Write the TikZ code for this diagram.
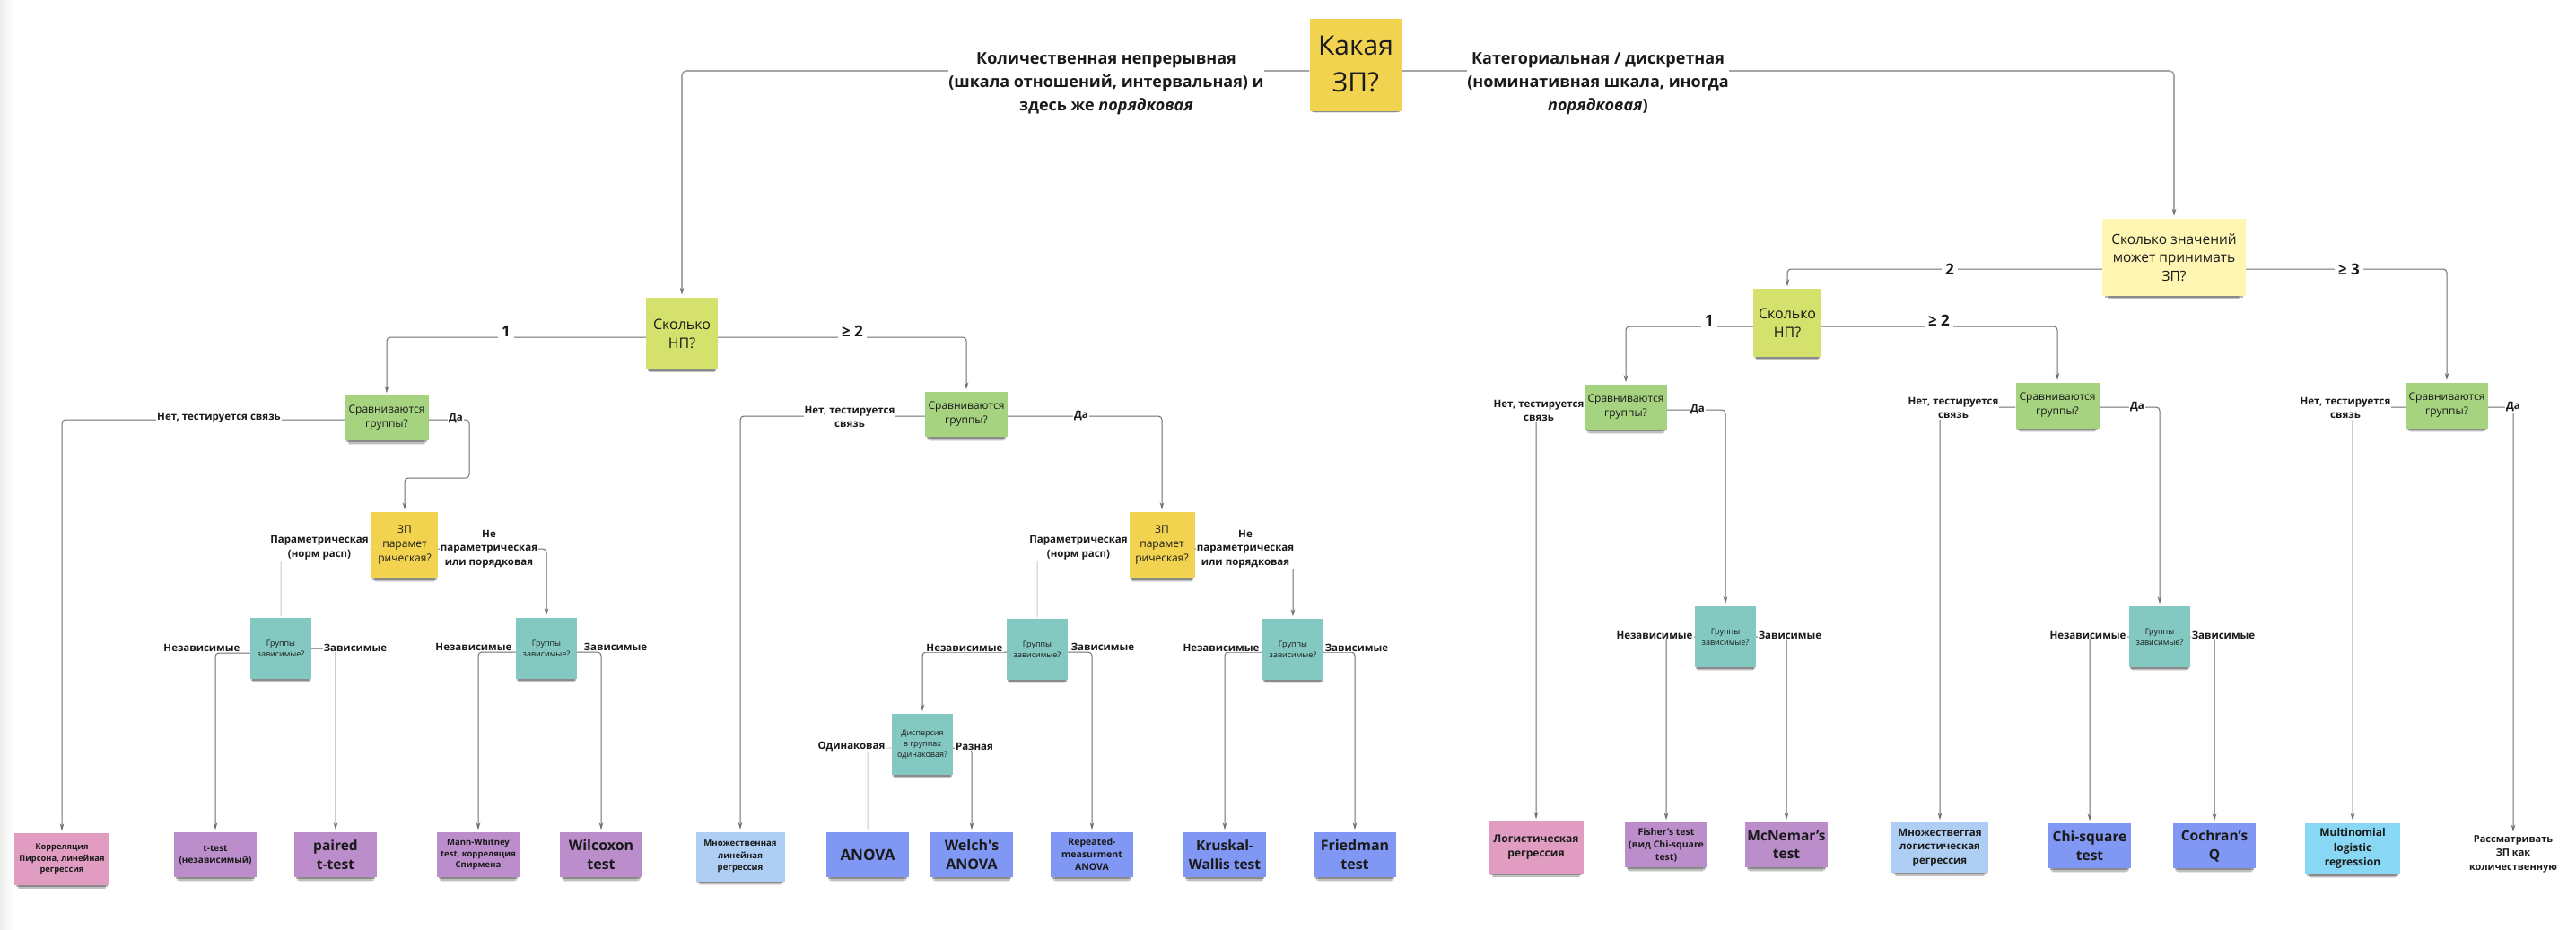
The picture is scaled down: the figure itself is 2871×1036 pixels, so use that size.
\documentclass[tikz,border=0pt]{standalone}
\usepackage{fontspec}
\setmainfont{Open Sans}
\usetikzlibrary{arrows.meta,shadows}

\definecolor{ink}{HTML}{1A1A1A}
\definecolor{wire}{HTML}{6E6E6E}
\definecolor{wirelight}{HTML}{CACACA}
\definecolor{wiretop}{HTML}{A6A6A6}
\definecolor{cYellow}{HTML}{F2D350}
\definecolor{cPale}{HTML}{FFF6B3}
\definecolor{cLime}{HTML}{D4E16C}
\definecolor{cGreen}{HTML}{A6D380}
\definecolor{cTeal}{HTML}{84C9C1}
\definecolor{cPink}{HTML}{E09DC1}
\definecolor{cViolet}{HTML}{BB8ECB}
\definecolor{cSky}{HTML}{AECEF3}
\definecolor{cBlue}{HTML}{8098F3}
\definecolor{cCyan}{HTML}{88D8F5}

\newcommand\fsz[2]{\fontsize{#1}{#2}\selectfont}

\tikzset{
  sticky/.style={rectangle, inner sep=1pt, align=center, text=ink,
    drop shadow={shadow xshift=0pt, shadow yshift=-8pt, shadow scale=0.90, opacity=0.10, fill=black},
    drop shadow={shadow xshift=0pt, shadow yshift=-6pt, shadow scale=0.93, opacity=0.16, fill=black},
    drop shadow={shadow xshift=0pt, shadow yshift=-3.5pt, shadow scale=0.96, opacity=0.28, fill=black}},
  ask/.style={sticky, font=\fsz{12}{16}},
  small/.style={sticky, fill=cTeal, minimum width=68pt, minimum height=68pt, font=\fsz{9}{12}},
  result/.style={sticky, minimum width=92pt, minimum height=50pt},
  lbl/.style={fill=white, inner sep=1pt, align=center, text=ink, font=\bfseries\fsz{11.5}{15.5}},
  numlbl/.style={fill=white, inner sep=4pt, text=ink, font=\bfseries\fsz{17}{20}},
  toplbl/.style={fill=white, inner sep=0pt, align=center, text=ink, font=\bfseries\fsz{18}{26}},
  conn/.style={draw=wire, line width=1pt, rounded corners=4pt},
  arr/.style={conn, -{Stealth[length=8pt,width=4.5pt]}, shorten >=2.5pt},
  topconn/.style={draw=wiretop, line width=1.6pt, rounded corners=5pt,
    -{Stealth[length=8pt,width=4.5pt,color=wire]}, shorten >=3pt},
  faint/.style={draw=wirelight, line width=1pt, rounded corners=4pt, shorten >=2pt},
}

\begin{document}
\begin{tikzpicture}[x=1pt,y=-1pt]
\useasboundingbox (0,0) rectangle (2871,1036);
\fill[white] (0,0) rectangle (2871,1036);
\shade[left color=black!7, right color=white] (0,0) rectangle (14,1036);

% ---- question stickies ----
\node[sticky, fill=cYellow, minimum width=103pt, minimum height=103pt, font=\fsz{30}{41}] (Q0) at (1511,72) {Какая\\ЗП?};
\node[sticky, fill=cPale, minimum width=160pt, minimum height=86pt, font=\fsz{15.5}{20.5}] (Q1) at (2423,287) {Сколько значений\\может принимать\\ЗП?};
\node[sticky, fill=cLime, minimum width=80pt, minimum height=80pt, font=\fsz{16}{21}] (NPA) at (760,372) {Сколько\\НП?};
\node[sticky, fill=cLime, minimum width=76pt, minimum height=76pt, font=\fsz{16}{21}] (NPC) at (1992,360) {Сколько\\НП?};

\node[ask, fill=cGreen, minimum width=93pt, minimum height=50pt] (SA) at (431,466) {Сравниваются\\группы?};
\node[ask, fill=cGreen, minimum width=92pt, minimum height=50pt] (SB) at (1077,462) {Сравниваются\\группы?};
\node[ask, fill=cGreen, minimum width=92pt, minimum height=50pt] (SC) at (1812,454) {Сравниваются\\группы?};
\node[ask, fill=cGreen, minimum width=93pt, minimum height=51pt] (SD) at (2293,452) {Сравниваются\\группы?};
\node[ask, fill=cGreen, minimum width=92pt, minimum height=51pt] (SE) at (2727,452) {Сравниваются\\группы?};

\node[ask, fill=cYellow, minimum width=74pt, minimum height=74pt] (ZA) at (451,608) {ЗП\\парамет\\рическая?};
\node[ask, fill=cYellow, minimum width=73pt, minimum height=74pt] (ZB) at (1295,608) {ЗП\\парамет\\рическая?};

\node[small] (GA1) at (313,723) {Группы\\зависимые?};
\node[small] (GA2) at (609,723) {Группы\\зависимые?};
\node[small] (GB1) at (1156,724) {Группы\\зависимые?};
\node[small] (GB2) at (1441,724) {Группы\\зависимые?};
\node[small] (GC) at (1923,710) {Группы\\зависимые?};
\node[small] (GD) at (2407,710) {Группы\\зависимые?};
\node[small] (DISP) at (1028,830) {Дисперсия\\в группах\\одинаковая?};

% ---- result stickies ----
\node[result, fill=cPink, minimum width=106pt, minimum height=58pt, font=\bfseries\fsz{9.3}{12.5}] (KOR) at (69,958) {Корреляция\\Пирсона, линейная\\регрессия};
\node[result, fill=cViolet, font=\bfseries\fsz{10}{13}] (TT) at (240,953) {t-test\\(независимый)};
\node[result, fill=cViolet, font=\bfseries\fsz{15.5}{21}] (PT) at (374,953) {paired\\t-test};
\node[result, fill=cViolet, font=\bfseries\fsz{9.5}{12.5}] (MW) at (533,953) {Mann-Whitney\\test, корреляция\\Спирмена};
\node[result, fill=cViolet, font=\bfseries\fsz{16}{21}] (WX) at (670,953) {Wilcoxon\\test};
\node[result, fill=cSky, minimum width=99pt, minimum height=55pt, font=\bfseries\fsz{9.6}{13.5}] (MLR) at (825,955) {Множественная\\линейная\\регрессия};
\node[result, fill=cBlue, font=\bfseries\fsz{17}{21}] (AN) at (967,953) {ANOVA};
\node[result, fill=cBlue, font=\bfseries\fsz{16}{21}] (WA) at (1083,953) {Welch\textquotesingle s\\ANOVA};
\node[result, fill=cBlue, font=\bfseries\fsz{10.5}{14}] (RM) at (1217,953) {Repeated-\\measurment\\ANOVA};
\node[result, fill=cBlue, font=\bfseries\fsz{15.5}{21}] (KW) at (1365,953) {Kruskal-\\Wallis test};
\node[result, fill=cBlue, font=\bfseries\fsz{16}{21}] (FR) at (1510,953) {Friedman\\test};

\node[result, fill=cPink, minimum width=106pt, minimum height=58pt, font=\bfseries\fsz{12}{16}] (LOG) at (1712,945) {Логистическая\\регрессия};
\node[result, fill=cViolet, font=\bfseries\fsz{10.5}{14}] (FI) at (1857,942) {Fisher’s test\\(вид Chi-square\\test)};
\node[result, fill=cViolet, font=\bfseries\fsz{15.5}{20}] (MN) at (1991,942) {McNemar’s\\test};
\node[result, fill=cSky, minimum width=108pt, minimum height=56pt, font=\bfseries\fsz{11.5}{15.5}] (MLOG) at (2162,945) {Множествеггая\\логистическая\\регрессия};
\node[result, fill=cBlue, font=\bfseries\fsz{15.5}{21}] (CHI) at (2329,943) {Chi-square\\test};
\node[result, fill=cBlue, font=\bfseries\fsz{15.5}{21}] (CO) at (2468,943) {Cochran’s\\Q};
\node[result, fill=cCyan, minimum width=106pt, minimum height=57pt, font=\bfseries\fsz{12}{16.5}] (MULT) at (2622,946) {Multinomial\\logistic\\regression};
\node[align=center, text=ink, inner sep=1pt, font=\bfseries\fsz{11}{15.5}] (RAS) at (2801,952) {Рассматривать\\ЗП как\\количественную};

% ---- connectors ----
\draw[topconn] (Q0.west |- 0,79) -| (NPA.north);
\draw[topconn] (Q0.east |- 0,79) -| (Q1.north);
\draw[arr] (Q1.west |- 0,300) -| (NPC.north);
\draw[arr] (Q1.east |- 0,300) -| (SE.north);

\draw[arr] (NPA.west |- 0,376) -| (SA.north);
\draw[arr] (NPA.east |- 0,376) -| (SB.north);
\draw[arr] (SA.west |- 0,468) -| (KOR.north);
\draw[arr] (SA.east |- 0,468) -- (523,468) -- (523,533) -| (ZA.north);
\draw[faint] (ZA.west |- 0,612) -| (GA1.north);
\draw[arr] (ZA.east |- 0,612) -| (GA2.north);
\draw[arr] (GA1.west |- 0,728) -| (TT.north);
\draw[arr] (GA1.east |- 0,723) -| (PT.north);
\draw[arr] (GA2.west |- 0,727) -| (MW.north);
\draw[arr] (GA2.east |- 0,727) -| (WX.north);

\draw[arr] (SB.west |- 0,464) -| (MLR.north);
\draw[arr] (SB.east |- 0,464) -| (ZB.north);
\draw[faint] (ZB.west |- 0,612) -| (GB1.north);
\draw[arr] (ZB.east |- 0,612) -| (GB2.north);
\draw[arr] (GB1.west |- 0,727) -| (DISP.north);
\draw[arr] (GB1.east |- 0,727) -| (RM.north);
\draw[faint] (DISP.west |- 0,834) -| (AN.north);
\draw[arr] (DISP.east |- 0,834) -| (WA.north);
\draw[arr] (GB2.west |- 0,727) -| (KW.north);
\draw[arr] (GB2.east |- 0,727) -| (FR.north);

\draw[arr] (NPC.west |- 0,364) -| (SC.north);
\draw[arr] (NPC.east |- 0,364) -| (SD.north);
\draw[arr] (SC.west |- 0,457) -| (LOG.north);
\draw[arr] (SC.east |- 0,457) -| (GC.north);
\draw[arr] (GC.west |- 0,710) -| (FI.north);
\draw[arr] (GC.east |- 0,710) -| (MN.north);
\draw[arr] (SD.west |- 0,454) -| (MLOG.north);
\draw[arr] (SD.east |- 0,454) -| (GD.north);
\draw[arr] (GD.west |- 0,710) -| (CHI.north);
\draw[arr] (GD.east |- 0,710) -| (CO.north);
\draw[arr] (SE.west |- 0,454) -| (MULT.north);
\draw[arr] (SE.east |- 0,454) -| (RAS.north);

% ---- connector labels ----
\node[toplbl] (tl) at (1233,93) {Количественная непрерывная\\(шкала отношений, интервальная) и\\здесь же \textit{порядковая}};
\node[toplbl] (tr) at (1781,93) {Категориальная / дискретная\\(номинативная шкала, иногда\\\textit{порядковая})};

\node[numlbl] (n1) at (2173,300) {2};
\node[numlbl] (n2) at (2618,300) {≥ 3};
\node[numlbl] (n3) at (564,369) {1};
\node[numlbl] (n4) at (950,369) {≥ 2};
\node[numlbl] (n5) at (1905,357) {1};
\node[numlbl] (n6) at (2161,357) {≥ 2};

\node[lbl] (la1) at (244,466) {Нет, тестируется связь};
\node[lbl] (la2) at (508,467) {Да};
\node[lbl] (la3) at (356,611) {Параметрическая\\(норм расп)};
\node[lbl] (la4) at (545,612) {Не\\параметрическая\\или порядковая};
\node[lbl] (la5) at (225,722) {Независимые};
\node[lbl] (la6) at (396,722) {Зависимые};
\node[lbl] (la7) at (528,721) {Независимые};
\node[lbl] (la8) at (686,721) {Зависимые};

\node[lbl] (lb1) at (947,465) {Нет, тестируется\\связь};
\node[lbl] (lb2) at (1205,464) {Да};
\node[lbl] (lb3) at (1202,611) {Параметрическая\\(норм расп)};
\node[lbl] (lb4) at (1388,612) {Не\\параметрическая\\или порядковая};
\node[lbl] (lb5) at (1075,722) {Независимые};
\node[lbl] (lb6) at (1229,721) {Зависимые};
\node[lbl] (lb7) at (949,832) {Одинаковая};
\node[lbl] (lb8) at (1086,832) {Разная};
\node[lbl] (lb9) at (1361,722) {Независимые};
\node[lbl] (lb10) at (1512,722) {Зависимые};

\node[lbl] (lc1) at (1715,458) {Нет, тестируется\\связь};
\node[lbl] (lc2) at (1892,457) {Да};
\node[lbl] (lc3) at (1844,708) {Независимые};
\node[lbl] (lc4) at (1995,708) {Зависимые};
\node[lbl] (ld1) at (2177,455) {Нет, тестируется\\связь};
\node[lbl] (ld2) at (2382,454) {Да};
\node[lbl] (ld3) at (2327,708) {Независимые};
\node[lbl] (ld4) at (2478,708) {Зависимые};
\node[lbl] (le1) at (2614,455) {Нет, тестируется\\связь};
\node[lbl] (le2) at (2801,454) {Да};
\end{tikzpicture}
\end{document}
